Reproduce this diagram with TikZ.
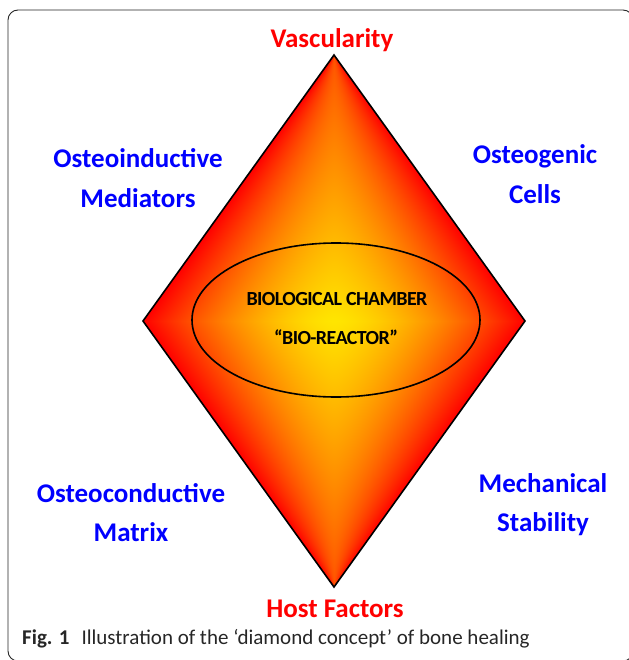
\documentclass[tikz,border=0pt]{standalone}
\usepackage{fontspec}
\setmainfont{Carlito}
\newfontfamily\chamberfont[LetterSpace=-3]{Carlito}
\usepackage{tikz}

\pgfdeclarefunctionalshading{diamondgrad}{\pgfpoint{-50bp}{-50bp}}{\pgfpoint{50bp}{50bp}}{}{
  abs 25 div
  dup 0.58 mul 0.9 exch sub
  3 1 roll
  1 exch sub 25 mul 0.01 add
  exch abs exch div
  dup sqrt mul 1 exch sub
  dup 0 lt {pop 0} if
  mul
  1 exch 0
}

\definecolor{lblblue}{RGB}{0,0,255}
\definecolor{lblred}{RGB}{255,0,0}

\tikzset{
  lbl/.style={anchor=base, inner sep=0pt, text=lblblue,
    font=\fontsize{27bp}{30bp}\selectfont\bfseries},
  redlbl/.style={lbl, text=lblred},
  chamber/.style={anchor=base, inner sep=0pt, text=black,
    font=\fontsize{20bp}{24bp}\selectfont\chamberfont\bfseries},
  captxt/.style={anchor=base west, inner sep=0pt, text=black!85,
    font=\fontsize{21bp}{24bp}\selectfont},
  outline/.style={draw=black, line width=1.6bp, line join=miter}
}

\begin{document}
\begin{tikzpicture}[x=1bp, y=-1bp]
\useasboundingbox (0,0) rectangle (629,660);

% frame
\draw[rounded corners=10bp, line width=0.9bp, black!85] (8,10) rectangle (633,661);

% diamond corners
\coordinate (T) at (334,55);
\coordinate (R) at (525,321);
\coordinate (B) at (334,587);
\coordinate (L) at (143,321);
\coordinate (C) at (336,320);

\shade[shading=diamondgrad] (T) -- (R) -- (B) -- (L) -- cycle;
\draw[outline] (T) -- (R) -- (B) -- (L) -- cycle;

% chamber ellipse
\draw[line width=1.6bp] (C) ellipse [x radius=144, y radius=77];

\node[chamber] (bc) at (337,305) {BIOLOGICAL CHAMBER};
\node[chamber] (br) at (336,344) {“BIO-REACTOR”};

% labels
\node[redlbl] (vasc) at (332,48) {Vascularity};
\node[redlbl] (host) at (335,617) {Host Factors};

\node[lbl] (oi1) at (138,167) {Osteoinductive};
\node[lbl] (oi2) at (138,207) {Mediators};

\node[lbl] (og1) at (535,163) {Osteogenic};
\node[lbl] (og2) at (535,203) {Cells};

\node[lbl] (oc1) at (131,502) {Osteoconductive};
\node[lbl] (oc2) at (131,541) {Matrix};

\node[lbl] (ms1) at (543,492) {Mechanical};
\node[lbl] (ms2) at (543,531) {Stability};

% caption
\node[captxt] (cap) at (22,644) {\textbf{Fig. 1}\hspace{12bp}Illustration of the ‘diamond concept’ of bone healing};
\end{tikzpicture}
\end{document}
